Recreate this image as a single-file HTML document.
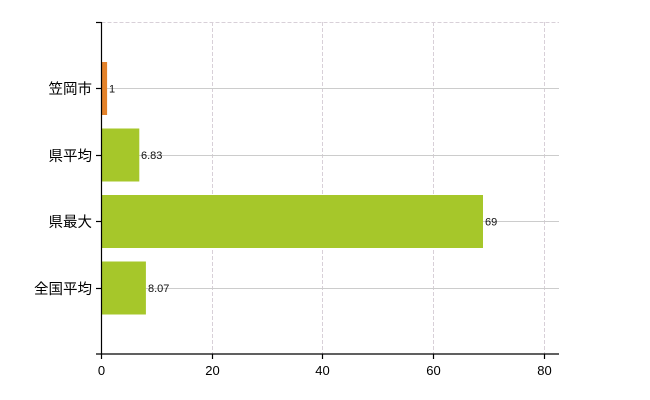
<!DOCTYPE html>
<html><head><meta charset="utf-8"><style>
html,body{margin:0;padding:0;background:#fff;}
svg{display:block;}
text{font-family:"Liberation Sans","Noto Sans CJK JP",sans-serif;}
</style></head><body>
<svg width="650" height="400" viewBox="0 0 650 400" xmlns="http://www.w3.org/2000/svg">
<g stroke="#d8d0d8" stroke-width="1" stroke-dasharray="4,2" fill="none">
<line x1="101.5" y1="22.5" x2="559" y2="22.5"/>
<line x1="212.5" y1="22" x2="212.5" y2="354"/>
<line x1="322.5" y1="22" x2="322.5" y2="354"/>
<line x1="433.5" y1="22" x2="433.5" y2="354"/>
<line x1="544.5" y1="22" x2="544.5" y2="354"/>
</g>
<g stroke="#cccccc" stroke-width="1">
<line x1="101" y1="88.5" x2="559" y2="88.5"/>
<line x1="101" y1="155.5" x2="559" y2="155.5"/>
<line x1="101" y1="221.5" x2="559" y2="221.5"/>
<line x1="101" y1="288.5" x2="559" y2="288.5"/>
</g>
<rect x="101.5" y="62" width="5.6" height="53" fill="#e3822a"/>
<rect x="101.5" y="128.5" width="37.8" height="53" fill="#a6c72a"/>
<rect x="101.5" y="195" width="381.5" height="53" fill="#a6c72a"/>
<rect x="101.5" y="261.5" width="44.4" height="53" fill="#a6c72a"/>
<g font-size="11" fill="#111">
<text x="109" y="92.5">1</text>
<text x="141" y="159">6.83</text>
<text x="485" y="225.5">69</text>
<text x="148" y="292">8.07</text>
</g>
<g stroke="#000" stroke-width="1.2">
<line x1="101.5" y1="22" x2="101.5" y2="354"/>
<line x1="96" y1="354" x2="559" y2="354"/>
<line x1="96" y1="22.5" x2="101.5" y2="22.5"/>
<line x1="96" y1="88.5" x2="101.5" y2="88.5"/>
<line x1="96" y1="155.5" x2="101.5" y2="155.5"/>
<line x1="96" y1="221.5" x2="101.5" y2="221.5"/>
<line x1="96" y1="288.5" x2="101.5" y2="288.5"/>
<line x1="101.5" y1="354" x2="101.5" y2="359"/>
<line x1="212.5" y1="354" x2="212.5" y2="359"/>
<line x1="322.5" y1="354" x2="322.5" y2="359"/>
<line x1="433.5" y1="354" x2="433.5" y2="359"/>
<line x1="544.5" y1="354" x2="544.5" y2="359"/>
</g>
<g font-size="14.5" fill="#000" text-anchor="end">
<text x="92" y="94">笠岡市</text>
<text x="92" y="161">県平均</text>
<text x="92" y="227">県最大</text>
<text x="92" y="294">全国平均</text>
</g>
<g font-size="13" fill="#000" text-anchor="middle">
<text x="101.5" y="375">0</text>
<text x="212.5" y="375">20</text>
<text x="322.5" y="375">40</text>
<text x="433.5" y="375">60</text>
<text x="544.5" y="375">80</text>
</g>
</svg>
</body></html>
